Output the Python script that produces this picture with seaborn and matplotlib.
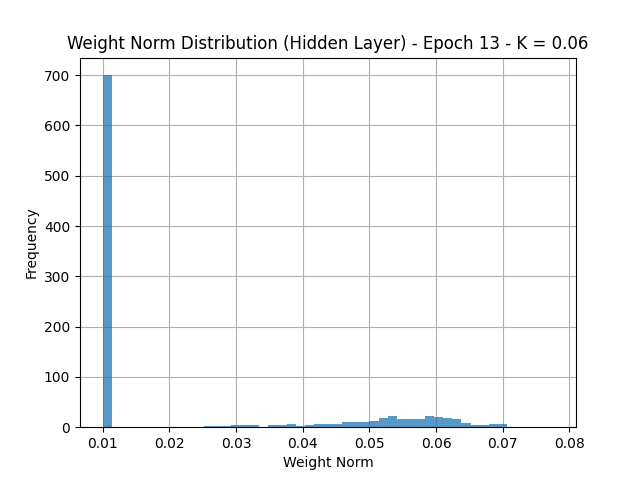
import numpy as np
import pandas as pd
import matplotlib
matplotlib.use('Agg')
import matplotlib.pyplot as plt
import seaborn as sns

# bin counts (49 bins from 0.010 to ~0.0776)
counts = [700, 0, 0, 0, 0, 0, 0, 1, 0, 0,
          0, 2, 2, 2, 4, 4, 4, 1, 4, 4,
          6, 2, 4, 6, 6, 6, 10, 10, 10, 12,
          18, 22, 16, 16, 16, 22, 20, 18, 16, 8,
          4, 4, 6, 6, 0, 0, 0, 1, 1]
w_min = 0.010
w_max = 0.0776

edges = np.linspace(w_min, w_max, len(counts) + 1)
df = pd.DataFrame({'norm': (edges[:-1] + edges[1:]) / 2, 'count': counts})

fig, ax = plt.subplots(figsize=(6.4, 4.8), dpi=100)
sns.histplot(data=df, x='norm', weights='count', bins=len(counts),
             binrange=(w_min, w_max), ax=ax,
             color='#1f77b4', alpha=0.75, linewidth=0)
ax.set_title('Weight Norm Distribution (Hidden Layer) - Epoch 13 - K = 0.06')
ax.set_xlabel('Weight Norm')
ax.set_ylabel('Frequency')
ax.grid(True)
ax.set_axisbelow(True)
fig.savefig('out.png')
